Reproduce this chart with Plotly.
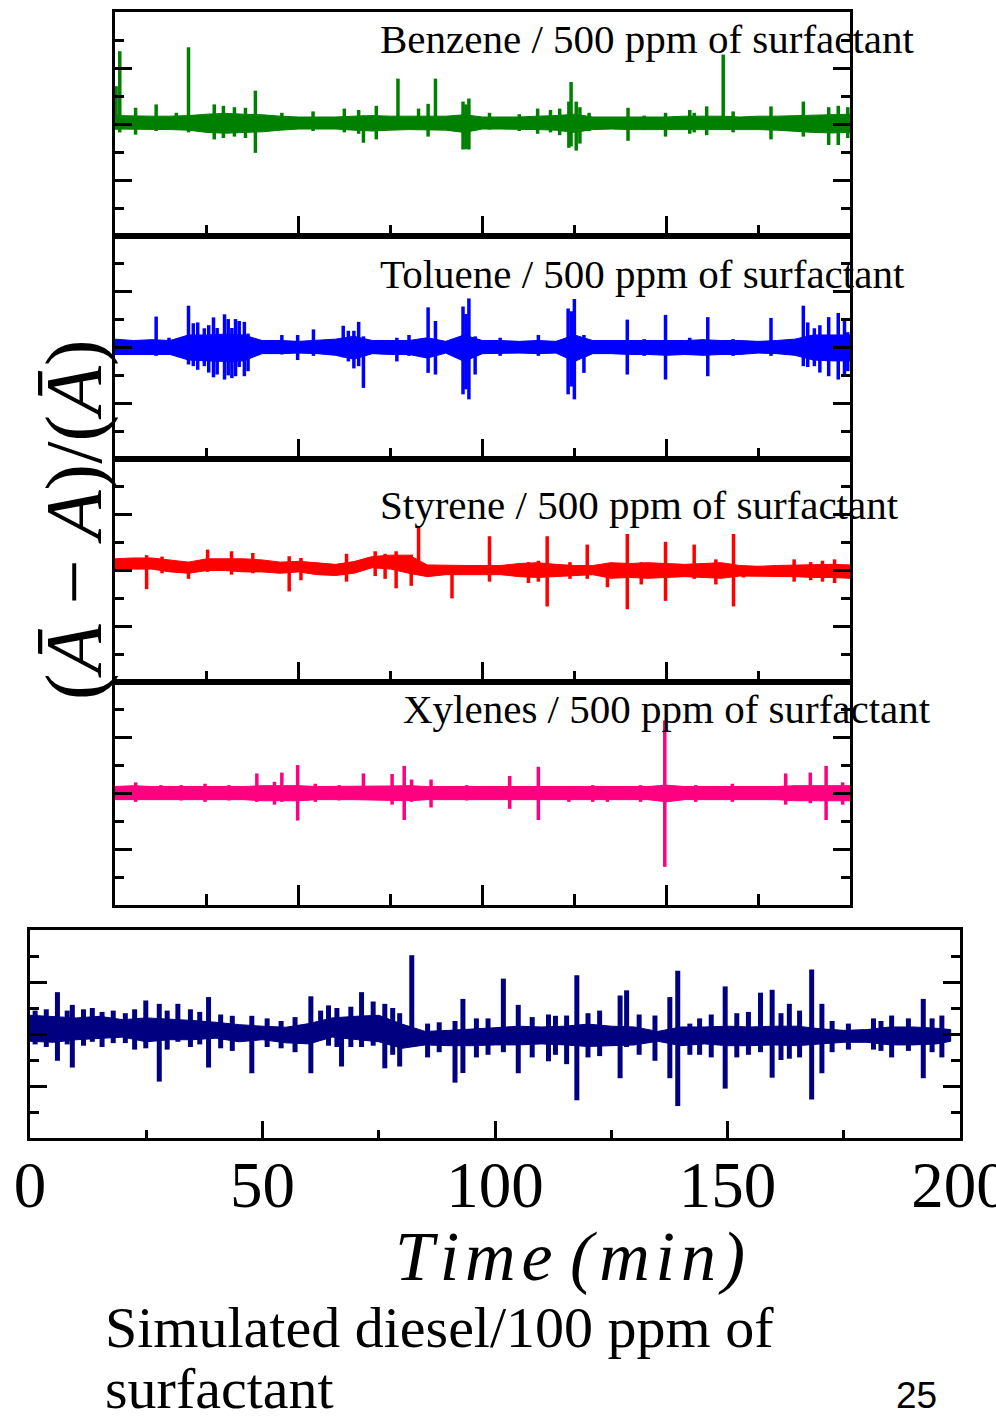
import plotly.graph_objects as go

W, H = 996, 1421

# ---------------- data ----------------
band_t = [0, 5, 10, 15, 20, 25, 30, 35, 40, 45, 50, 55, 60, 65, 70, 75, 80, 85, 90, 95,
          100, 105, 110, 115, 120, 125, 130, 135, 140, 145, 150, 155, 160, 165, 170, 175,
          180, 185, 190, 195, 200]

# Benzene
benz_hi = [0.3, 0.28, 0.28, 0.28, 0.3, 0.35, 0.38, 0.35, 0.33, 0.28, 0.25, 0.25, 0.25, 0.28,
           0.3, 0.28, 0.28, 0.3, 0.28, 0.33, 0.25, 0.25, 0.25, 0.28, 0.3, 0.35, 0.25, 0.25,
           0.25, 0.25, 0.25, 0.28, 0.28, 0.28, 0.25, 0.28, 0.28, 0.3, 0.33, 0.35, 0.35]
benz_lo = [-0.18, -0.2, -0.2, -0.2, -0.22, -0.3, -0.33, -0.3, -0.28, -0.22, -0.18, -0.18,
           -0.18, -0.22, -0.25, -0.22, -0.2, -0.2, -0.22, -0.3, -0.18, -0.18, -0.18, -0.2,
           -0.22, -0.3, -0.2, -0.18, -0.2, -0.2, -0.2, -0.2, -0.22, -0.2, -0.2, -0.2, -0.22,
           -0.25, -0.3, -0.32, -0.3]
benz_spk_t = [0.3, 1.3, 5.6, 11.2, 16.7, 20.0, 27.0, 29.5, 32.5, 35.5, 38.2, 45.4, 53.9, 62.4,
              66.3, 67.6, 71.1, 77.0, 82.6, 85.2, 87.2, 94.7, 95.5, 96.3, 101.9, 110.0, 115.0,
              118.5, 121.0, 123.5, 124.1, 125.5, 126.5, 129.0, 139.6, 144.0, 149.8, 156.4,
              157.6, 161.0, 165.5, 168.2, 178.5, 187.3, 194.2, 196.8, 199.4]
benz_spk_hi = [1.35, 2.6, 0.58, 0.7, 0.4, 2.74, 0.7, 0.65, 0.6, 0.58, 1.19, 0.4, 0.45, 0.55,
               0.5, 0.3, 0.65, 1.62, 0.55, 0.72, 1.62, 0.8, 0.7, 0.91, 0.4, 0.35, 0.55, 0.5,
               0.55, 0.8, 1.5, 0.8, 0.6, 0.4, 0.58, 0.3, 0.4, 0.5, 0.4, 0.63, 2.48, 0.45,
               0.63, 0.8, 0.6, 0.65, 0.6]
benz_spk_lo = [-0.2, -0.3, -0.38, -0.25, -0.2, -0.3, -0.55, -0.5, -0.45, -0.5, -1.03, -0.2,
               -0.25, -0.3, -0.35, -0.67, -0.55, -0.1, -0.2, -0.45, -0.15, -0.91, -0.9, -0.91,
               -0.2, -0.25, -0.35, -0.3, -0.4, -0.85, -0.8, -0.95, -0.7, -0.25, -0.6, -0.2,
               -0.45, -0.35, -0.3, -0.4, -0.2, -0.3, -0.55, -0.45, -0.75, -0.75, -0.5]

# Toluene
tol_hi = [0.3, 0.25, 0.28, 0.25, 0.45, 0.45, 0.48, 0.45, 0.25, 0.25, 0.22, 0.25, 0.3, 0.4,
          0.25, 0.25, 0.25, 0.35, 0.22, 0.45, 0.25, 0.25, 0.22, 0.25, 0.22, 0.45, 0.25, 0.25,
          0.25, 0.25, 0.25, 0.25, 0.28, 0.25, 0.25, 0.22, 0.25, 0.3, 0.45, 0.45, 0.45]
tol_lo = [-0.25, -0.25, -0.25, -0.25, -0.45, -0.48, -0.5, -0.48, -0.22, -0.22, -0.2, -0.22,
          -0.28, -0.42, -0.22, -0.25, -0.25, -0.38, -0.2, -0.5, -0.22, -0.22, -0.2, -0.22,
          -0.2, -0.5, -0.22, -0.22, -0.25, -0.25, -0.28, -0.25, -0.28, -0.25, -0.25, -0.2,
          -0.22, -0.28, -0.45, -0.48, -0.48]
tol_spk_t = [11.2, 14.7, 17.7, 20.0, 21.3, 22.5, 24.3, 25.5, 26.8, 27.8, 29.8, 30.8, 31.8,
             32.8, 33.8, 35.2, 36.2, 45.4, 49.7, 54.0, 62.1, 63.5, 65.0, 66.3, 67.6, 76.7,
             80.0, 85.2, 87.2, 94.7, 95.5, 96.3, 98.0, 104.8, 115.2, 123.3, 124.2, 125.0,
             127.6, 139.4, 144.0, 149.8, 156.4, 161.3, 168.2, 178.5, 187.3, 188.5, 190.3,
             191.8, 194.2, 196.8, 198.5, 199.4]
tol_spk_hi = [1.11, 0.35, 0.3, 1.5, 0.87, 0.9, 0.69, 0.8, 1.08, 0.7, 1.19, 1.02, 0.7, 1.02,
              0.95, 0.92, 0.5, 0.45, 0.45, 0.65, 0.78, 0.6, 0.6, 0.92, 0.4, 0.35, 0.45, 1.44,
              0.95, 1.47, 1.2, 1.76, 0.4, 0.35, 0.45, 1.4, 1.3, 1.74, 0.45, 1.0, 0.3, 1.17,
              0.35, 1.09, 0.3, 1.06, 1.5, 0.9, 0.69, 0.8, 1.09, 1.24, 1.0, 0.55]
tol_spk_lo = [-0.3, -0.25, -0.25, -0.61, -0.67, -0.8, -0.67, -0.9, -1.07, -0.97, -1.15, -1.0,
              -1.1, -1.03, -0.7, -1.03, -0.85, -0.25, -0.45, -0.3, -0.35, -0.5, -0.75, -0.67,
              -1.45, -0.5, -0.3, -0.91, -0.97, -1.68, -1.5, -1.86, -0.97, -0.3, -0.3, -1.68,
              -1.4, -1.86, -0.91, -0.97, -0.3, -1.15, -0.25, -1.03, -0.3, -0.3, -0.67, -0.7,
              -0.67, -0.9, -1.03, -1.15, -1.0, -0.85]

# Styrene
sty_hi = [0.42, 0.45, 0.45, 0.38, 0.3, 0.42, 0.42, 0.42, 0.38, 0.3, 0.33, 0.28, 0.22, 0.32,
          0.5, 0.55, 0.55, 0.2, 0.18, 0.18, 0.18, 0.18, 0.25, 0.28, 0.22, 0.18, 0.18, 0.28,
          0.25, 0.28, 0.25, 0.22, 0.25, 0.28, 0.18, 0.15, 0.18, 0.2, 0.22, 0.22, 0.2]
sty_lo = [0.0, 0.05, 0.05, -0.05, -0.1, 0.0, 0.0, -0.05, -0.05, -0.1, -0.05, -0.15, -0.18,
          -0.1, 0.1, 0.05, -0.1, -0.22, -0.15, -0.15, -0.15, -0.15, -0.22, -0.25, -0.2, -0.18,
          -0.15, -0.28, -0.25, -0.28, -0.25, -0.22, -0.25, -0.28, -0.2, -0.2, -0.22, -0.22,
          -0.25, -0.25, -0.28]
sty_spk_t = [8.6, 12.8, 20.0, 25.2, 31.7, 37.5, 47.4, 50.6, 63.0, 70.8, 73.5, 76.5, 80.6,
             82.6, 91.7, 101.9, 112.5, 115.2, 117.6, 123.8, 128.5, 134.0, 139.4, 143.2, 149.8,
             157.6, 163.5, 168.3, 171.0, 184.8, 189.3, 192.5, 195.8]
sty_spk_hi = [0.55, 0.5, 0.25, 0.75, 0.69, 0.63, 0.51, 0.45, 0.6, 0.69, 0.6, 0.69, 0.57, 1.55,
              0.0, 1.23, 0.3, 0.35, 1.23, 0.3, 0.93, 0.2, 1.31, 0.3, 1.03, 0.93, 0.4, 1.31,
              0.15, 0.4, 0.3, 0.35, 0.4]
sty_spk_lo = [-0.67, -0.1, -0.3, -0.05, -0.15, -0.1, -0.75, -0.35, -0.4, -0.2, -0.3, -0.64,
              -0.55, -0.1, -1.0, -0.4, -0.45, -0.4, -1.29, -0.3, -0.3, -0.6, -1.39, -0.5, -1.09,
              -0.3, -0.5, -1.29, -0.25, -0.4, -0.35, -0.4, -0.45]

# Xylenes
xyl_hi = [0.25, 0.28, 0.25, 0.25, 0.25, 0.25, 0.25, 0.25, 0.28, 0.28, 0.28, 0.25, 0.25, 0.25,
          0.25, 0.27, 0.28, 0.25, 0.25, 0.25, 0.25, 0.25, 0.25, 0.27, 0.25, 0.25, 0.25, 0.25,
          0.25, 0.25, 0.3, 0.25, 0.25, 0.25, 0.25, 0.25, 0.25, 0.28, 0.28, 0.28, 0.28]
xyl_lo = [-0.22, -0.24, -0.22, -0.22, -0.22, -0.22, -0.22, -0.22, -0.26, -0.26, -0.26, -0.22,
          -0.22, -0.22, -0.22, -0.24, -0.26, -0.22, -0.22, -0.22, -0.22, -0.22, -0.22, -0.24,
          -0.22, -0.22, -0.22, -0.22, -0.22, -0.22, -0.3, -0.22, -0.22, -0.22, -0.22, -0.22,
          -0.22, -0.26, -0.26, -0.26, -0.26]
xyl_spk_t = [5.6, 12.5, 18.0, 24.5, 31.0, 38.6, 43.4, 45.4, 49.7, 54.5, 61.0, 67.6, 75.4,
             78.7, 80.7, 86.0, 95.7, 107.4, 115.2, 123.5, 130.0, 134.0, 143.0, 149.6, 158.0,
             168.0, 182.5, 189.2, 193.5, 198.0]
xyl_spk_hi = [0.4, 0.3, 0.3, 0.35, 0.3, 0.72, 0.42, 0.75, 1.02, 0.35, 0.3, 0.72, 0.7, 0.99,
              0.5, 0.5, 0.3, 0.63, 0.96, 0.25, 0.3, 0.25, 0.3, 2.62, 0.3, 0.35, 0.72, 0.75,
              0.99, 0.4]
xyl_spk_lo = [-0.3, -0.2, -0.25, -0.3, -0.25, -0.3, -0.4, -0.3, -0.97, -0.3, -0.25, -0.2,
              -0.4, -0.95, -0.3, -0.5, -0.25, -0.55, -0.95, -0.3, -0.3, -0.3, -0.3, -2.63,
              -0.3, -0.3, -0.4, -0.35, -0.95, -0.4]

# Simulated diesel
dsl_t = [0, 5, 10, 15, 20, 25, 30, 35, 40, 45, 50, 55, 60, 65, 70, 75, 80, 85, 90, 95, 100,
         105, 110, 115, 120, 125, 130, 135, 140, 145, 150, 155, 160, 165, 170, 175, 180, 185,
         190, 195, 198]
dsl_hi = [0.72, 0.68, 0.62, 0.68, 0.55, 0.62, 0.58, 0.52, 0.45, 0.36, 0.3, 0.26, 0.4, 0.62,
          0.68, 0.72, 0.38, 0.1, 0.14, 0.18, 0.24, 0.3, 0.27, 0.3, 0.38, 0.3, 0.27, 0.1, 0.27,
          0.27, 0.3, 0.27, 0.3, 0.3, 0.2, 0.14, 0.17, 0.27, 0.27, 0.22, 0.17]
dsl_lo = [-0.28, -0.32, -0.22, -0.16, -0.12, -0.3, -0.22, -0.22, -0.16, -0.3, -0.22, -0.34,
          -0.38, -0.12, -0.22, -0.3, -0.55, -0.42, -0.45, -0.45, -0.42, -0.42, -0.38, -0.42,
          -0.48, -0.45, -0.42, -0.28, -0.45, -0.38, -0.45, -0.45, -0.42, -0.45, -0.38, -0.32,
          -0.32, -0.42, -0.42, -0.38, -0.28]
dsl_spk_t = [1.1, 3.5, 5.9, 8.0, 9.1, 11.5, 13.4, 15.5, 17.9, 20.5, 22.5, 24.9, 27.8, 29.5,
             31.8, 34.5, 36.5, 38.4, 41.0, 43.5, 47.7, 51.0, 54.0, 57.0, 60.4, 62.5, 64.2,
             66.0, 67.0, 69.0, 71.3, 73.8, 76.3, 78.0, 79.5, 82.1, 85.5, 88.0, 91.4, 93.1,
             96.0, 98.5, 101.8, 105.0, 108.0, 111.5, 113.0, 115.4, 117.6, 120.0, 122.5,
             126.9, 128.3, 131.0, 134.4, 137.6, 139.3, 141.9, 144.0, 146.5, 149.5, 152.0,
             154.5, 157.1, 159.6, 161.5, 163.3, 165.5, 168.1, 170.3, 172.5, 176.0, 181.4,
             183.0, 185.3, 188.9, 192.1, 194.0, 196.1]
dsl_spk_hi = [0.9, 0.95, 1.61, 0.9, 1.12, 0.95, 1.0, 0.85, 0.9, 0.8, 0.95, 1.29, 1.16, 0.9,
              1.16, 0.95, 0.85, 1.42, 0.75, 0.7, 0.7, 0.6, 0.5, 0.65, 1.45, 0.9, 1.1, 1.0, 0.5,
              1.05, 1.61, 1.25, 1.16, 1.0, 0.8, 3.03, 0.4, 0.45, 0.5, 1.35, 0.6, 0.6, 2.13,
              1.12, 0.65, 0.75, 0.7, 0.71, 2.26, 0.8, 0.9, 1.48, 1.68, 0.75, 0.71, 1.42, 2.43,
              0.4, 0.6, 0.75, 1.83, 0.8, 0.85, 1.59, 1.7, 0.8, 1.16, 0.9, 2.48, 1.16, 0.5, 0.4,
              0.6, 0.5, 0.71, 0.6, 1.35, 0.6, 0.71]
dsl_spk_lo = [-0.4, -0.5, -1.03, -0.4, -1.29, -0.45, -0.3, -0.5, -0.35, -0.35, -0.6, -0.55,
              -1.83, -0.6, -0.3, -0.5, -0.4, -1.29, -0.55, -0.65, -1.51, -0.5, -0.55, -0.7,
              -1.51, -0.2, -0.45, -0.5, -1.25, -0.5, -0.5, -0.45, -1.32, -0.8, -1.25, -0.5,
              -0.9, -0.7, -1.87, -1.5, -0.9, -0.8, -0.7, -1.51, -0.9, -1.05, -0.8, -1.16, -2.55,
              -0.9, -0.85, -1.7, -0.5, -0.8, -1.03, -1.7, -2.77, -0.8, -0.8, -0.9, -2.1, -0.9,
              -0.8, -0.7, -1.68, -1.0, -0.95, -0.9, -2.52, -1.51, -0.7, -0.6, -0.6, -0.65,
              -0.9, -0.65, -1.7, -0.7, -0.9]

panel_titles = ["Benzene / 500 ppm of surfactant", "Toluene / 500 ppm of surfactant",
                "Styrene / 500 ppm of surfactant", "Xylenes / 500 ppm of surfactant"]
x_tickvals = [0, 50, 100, 150, 200]
x_ticktext = ["0", "50", "100", "150", "200"]

# ---------------- figure ----------------
SERIF = "Liberation Serif, Times New Roman, serif"
fig = go.Figure()


def px_x(x):
    return x / W


def px_y(y):
    return 1 - y / H


panels = [
    dict(t=band_t, hi=benz_hi, lo=benz_lo, st=benz_spk_t, sh=benz_spk_hi, sl=benz_spk_lo,
         color="#008000", xd=(115, 850), yd=(12, 236), w=3.5),
    dict(t=band_t, hi=tol_hi, lo=tol_lo, st=tol_spk_t, sh=tol_spk_hi, sl=tol_spk_lo,
         color="#0000FF", xd=(115, 850), yd=(236, 459), w=3.5),
    dict(t=band_t, hi=sty_hi, lo=sty_lo, st=sty_spk_t, sh=sty_spk_hi, sl=sty_spk_lo,
         color="#FF0000", xd=(115, 850), yd=(459, 682), w=3.5),
    dict(t=band_t, hi=xyl_hi, lo=xyl_lo, st=xyl_spk_t, sh=xyl_spk_hi, sl=xyl_spk_lo,
         color="#FF0080", xd=(115, 850), yd=(682, 905), w=3.5),
    dict(t=dsl_t, hi=dsl_hi, lo=dsl_lo, st=dsl_spk_t, sh=dsl_spk_hi, sl=dsl_spk_lo,
         color="#000080", xd=(30, 960), yd=(930, 1138), w=5),
]

layout = dict(width=W, height=H, margin=dict(l=0, r=0, t=0, b=0, autoexpand=False),
              showlegend=False, paper_bgcolor="white", plot_bgcolor="white")

for i, p in enumerate(panels):
    n = i + 1
    xa = "x" if n == 1 else f"x{n}"
    ya = "y" if n == 1 else f"y{n}"
    fig.add_trace(go.Scatter(x=p["t"] + p["t"][::-1], y=p["hi"] + p["lo"][::-1],
                             fill="toself", fillcolor=p["color"], mode="lines",
                             line=dict(color=p["color"], width=1),
                             xaxis=xa, yaxis=ya, hoverinfo="skip"))
    xs, ys = [], []
    for a, b, c in zip(p["st"], p["sh"], p["sl"]):
        xs += [a, a, None]
        ys += [b, c, None]
    fig.add_trace(go.Scatter(x=xs, y=ys, mode="lines",
                             line=dict(color=p["color"], width=p["w"]),
                             xaxis=xa, yaxis=ya, hoverinfo="skip"))
    bottom = (n == 5)
    xaxis = dict(domain=[px_x(p["xd"][0]), px_x(p["xd"][1])], range=[0, 200],
                 anchor=ya, showline=True, mirror=True, linecolor="black", linewidth=3,
                 showgrid=False, zeroline=False, ticks="inside", automargin=False,
                 tickvals=x_tickvals, ticktext=x_ticktext,
                 ticklen=17 if bottom else 20, tickwidth=2.5, tickcolor="black",
                 minor=dict(ticks="inside", tickvals=[25, 75, 125, 175],
                            ticklen=8 if bottom else 11, tickwidth=2.5, tickcolor="black",
                            showgrid=False),
                 showticklabels=bottom, ticklabeloverflow="allow",
                 tickfont=dict(family=SERIF, size=65, color="black"),
                 ticklabelstandoff=-12)
    yaxis = dict(domain=[px_y(p["yd"][1]), px_y(p["yd"][0])], range=[-4, 4],
                 anchor=xa, showline=True, mirror="ticks", linecolor="black", linewidth=3,
                 showgrid=False, zeroline=False, ticks="inside", tickvals=[-2, 0, 2],
                 automargin=False,
                 ticklen=17, tickwidth=2.5, tickcolor="black", showticklabels=False,
                 minor=dict(ticks="inside", tickvals=[-3, -1, 1, 3], ticklen=9,
                            tickwidth=2.5, tickcolor="black", showgrid=False))
    layout["xaxis" if n == 1 else f"xaxis{n}"] = xaxis
    layout["yaxis" if n == 1 else f"yaxis{n}"] = yaxis

fig.update_layout(**layout)

ann = []
title_pos = [(378, 39), (378, 274), (378, 505), (401, 709)]
for txt, (x, y) in zip(panel_titles, title_pos):
    ann.append(dict(text=txt, x=px_x(x), y=px_y(y), xref="paper", yref="paper",
                    xanchor="left", yanchor="middle", showarrow=False,
                    font=dict(family=SERIF, size=41, color="black")))

HS = "\u200a"
ann.append(dict(text="(<i>Ā</i> − <i>A</i>)/(<i>Ā</i>)", x=px_x(74), y=px_y(520),
                xref="paper", yref="paper", textangle=-90, showarrow=False,
                xanchor="center", yanchor="middle",
                font=dict(family=SERIF, size=80, color="black")))
ann.append(dict(text="<i>T" + HS + "i" + HS + "m" + HS + "e (" + HS + "m" + HS + "i" + HS
                     + "n" + HS + ")</i>",
                x=px_x(570), y=px_y(1256), xref="paper",
                yref="paper", showarrow=False, xanchor="center", yanchor="middle",
                font=dict(family=SERIF, size=70, color="black")))
ann.append(dict(text="Simulated diesel/100 ppm of", x=px_x(103), y=px_y(1327),
                xref="paper", yref="paper", showarrow=False, xanchor="left",
                yanchor="middle", font=dict(family=SERIF, size=58, color="black")))
ann.append(dict(text="surfactant", x=px_x(103), y=px_y(1388), xref="paper", yref="paper",
                showarrow=False, xanchor="left", yanchor="middle",
                font=dict(family=SERIF, size=58, color="black")))
ann.append(dict(text="25", x=px_x(916), y=px_y(1395), xref="paper", yref="paper",
                showarrow=False, xanchor="center", yanchor="middle",
                font=dict(family="Liberation Sans, Arial, sans-serif", size=37,
                          color="black")))
fig.update_layout(annotations=ann)

fig.write_html("out.html",
               config={"displayModeBar": False},
               post_script="document.body.style.margin='0';"
                           "document.body.style.padding='0';"
                           "document.documentElement.style.overflow='hidden';")
